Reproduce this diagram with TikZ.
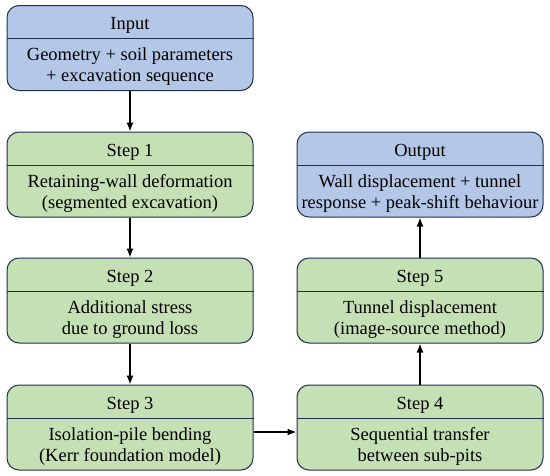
\documentclass[tikz,border=0pt]{standalone}
\usepackage{fontspec}
\setmainfont{Liberation Serif}
\newfontfamily\tnrfont{Liberation Serif}
\usetikzlibrary{arrows.meta}
\definecolor{bordc}{HTML}{1F2F50}
\definecolor{bluef}{HTML}{B4C7E7}
\definecolor{greenf}{HTML}{C5E0B4}
\tikzset{
  box/.style={draw=bordc, line width=1pt, rounded corners=12pt, minimum width=246pt, minimum height=85pt, inner sep=0pt},
  bluebox/.style={box, fill=bluef},
  greenbox/.style={box, fill=greenf},
  ttl/.style={font=\tnrfont\fontsize{18.5}{21}\selectfont, inner sep=0pt},
  body/.style={font=\tnrfont\fontsize{18.5}{21}\selectfont, align=center, inner sep=0pt},
  divl/.style={draw=bordc, line width=1pt},
  arr/.style={line width=1.3pt, -{Latex[length=9pt,width=7pt]}}
}
\newcommand{\flowbox}[6]{%
  \node[#2] (#1) at (#3,#4) {};
  \draw[divl] ([yshift=-33.5pt]#1.north west) -- ([yshift=-33.5pt]#1.north east);
  \node[ttl] (#1t) at ([yshift=-20.5pt]#1.north) {#5};
  \node[body] (#1b) at ([yshift=-19pt]#1.center) {#6};
}
\begin{document}
\begin{tikzpicture}[x=1pt,y=-1pt]
\useasboundingbox (0,0) rectangle (550,475);
\flowbox{in}{bluebox}{130}{48}{Input}{Geometry + soil parameters\\+ excavation sequence}
\flowbox{sa}{greenbox}{130}{174.5}{Step 1}{Retaining-wall deformation\\(segmented excavation)}
\flowbox{sb}{greenbox}{130}{300.5}{Step 2}{Additional stress\\due to ground loss}
\flowbox{sc}{greenbox}{130}{427.5}{Step 3}{Isolation-pile bending\\(Kerr foundation model)}
\flowbox{sd}{greenbox}{420}{427.5}{Step 4}{Sequential transfer\\between sub-pits}
\flowbox{se}{greenbox}{420}{300.5}{Step 5}{Tunnel displacement\\(image-source method)}
\flowbox{out}{bluebox}{420}{174.5}{Output}{Wall displacement + tunnel\\response + peak-shift behaviour}
\draw[arr] (in) -- (sa);
\draw[arr] (sa) -- (sb);
\draw[arr] (sb) -- (sc);
\draw[arr] ([yshift=-4.5pt]sc.east) -- ([yshift=-4.5pt]sd.west);
\draw[arr] (sd) -- (se);
\draw[arr] (se) -- (out);
\end{tikzpicture}
\end{document}
